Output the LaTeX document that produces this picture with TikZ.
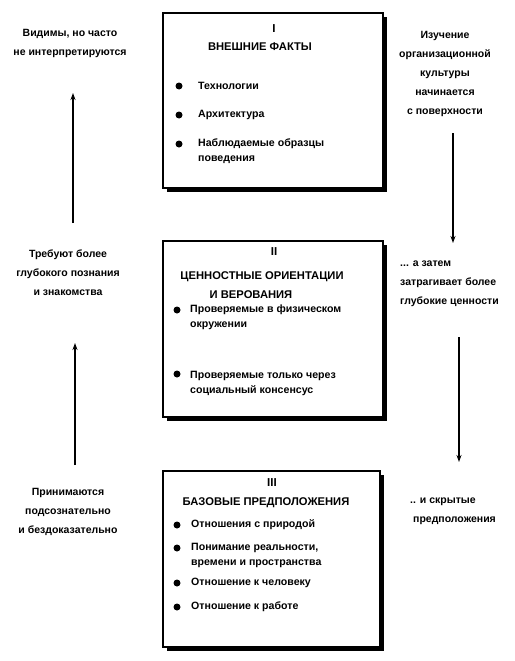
\documentclass[tikz,border=0pt]{standalone}
\usepackage{fontspec}
\setmainfont{Liberation Sans}
\usetikzlibrary{arrows.meta}
\begin{document}
\begin{tikzpicture}[x=1pt,y=-1pt,
  txt/.style={inner sep=0pt,font=\bfseries\fontsize{10.5}{19}\selectfont,align=center},
  ltxt/.style={inner sep=0pt,font=\bfseries\fontsize{10.6}{15}\selectfont,align=left,anchor=west},
  ttl/.style={inner sep=0pt,font=\bfseries\fontsize{11.2}{12}\selectfont},
  num/.style={inner sep=0pt,font=\bfseries\fontsize{11.5}{12}\selectfont},
  blt/.style={circle,fill=black,inner sep=0pt,minimum size=7pt},
  layer/.style={draw=black,line width=1.2pt,fill=white},
  shade/.style={fill=black},
  arr/.style={line width=1.4pt,-{Stealth[length=7pt,width=5pt]}}]
\useasboundingbox[fill=white] (0,0) rectangle (514,661);
% boxes with shadows
\fill[shade] (167,17) rectangle (387,192);
\draw[layer] (163,13) rectangle (383,188);
\fill[shade] (167,245) rectangle (387,421);
\draw[layer] (163,241) rectangle (383,417);
\fill[shade] (167,475) rectangle (384,651);
\draw[layer] (163,471) rectangle (380,647);
% box I
\node[num] (n1) at (274,29) {I};
\node[ttl] (t1) at (260,47) {ВНЕШНИЕ ФАКТЫ};
\node[blt] (b11) at (179,86) {};
\node[blt] (b12) at (179,115) {};
\node[blt] (b13) at (179,144) {};
\node[ltxt] (i11) at (198,86) {Технологии};
\node[ltxt] (i12) at (198,115) {Архитектура};
\node[ltxt] (i13) at (198,151) {Наблюдаемые образцы\\поведения};
% box II
\node[num] (n2) at (274,252) {II};
\node[ttl] (t2a) at (262,277) {ЦЕННОСТНЫЕ ОРИЕНТАЦИИ};
\node[ttl] (t2b) at (251,295) {И ВЕРОВАНИЯ};
\node[blt] (b21) at (177,310) {};
\node[blt] (b22) at (177,374) {};
\node[ltxt] (i21) at (190,317.5) {Проверяемые в физическом\\окружении};
\node[ltxt] (i22) at (190,383.5) {Проверяемые только через\\социальный консенсус};
% box III
\node[num] (n3) at (272,483) {III};
\node[ttl] (t3) at (266,503) {БАЗОВЫЕ ПРЕДПОЛОЖЕНИЯ};
\node[blt] (b31) at (177,525) {};
\node[blt] (b32) at (177,548) {};
\node[blt] (b33) at (177,583) {};
\node[blt] (b34) at (177,607) {};
\node[ltxt] (i31) at (191,525) {Отношения с природой};
\node[ltxt] (i32) at (191,555.5) {Понимание реальности,\\времени и пространства};
\node[ltxt] (i33) at (191,583) {Отношение к человеку};
\node[ltxt] (i34) at (191,607) {Отношение к работе};
% side labels
\node[txt] (l1) at (70,43) {Видимы, но часто\\не интерпретируются};
\node[txt] (l2) at (68,273) {Требуют более\\глубокого познания\\и знакомства};
\node[txt] (l3) at (68,512) {Принимаются\\подсознательно\\и бездоказательно};
\node[txt] (r1) at (445,73.5) {Изучение\\организационной\\культуры\\начинается\\с поверхности};
\node[txt,align=left,anchor=west] (r2) at (400,284) {... а затем\\затрагивает более\\глубокие ценности};
\node[txt,align=left,anchor=west] (r3) at (410,511) {.. и скрытые\\\hspace*{3pt}предположения};
% arrows
\coordinate (a1s) at (73,223); \coordinate (a1e) at (73,93);
\coordinate (a2s) at (75,465); \coordinate (a2e) at (75,343);
\coordinate (a3s) at (453,133); \coordinate (a3e) at (453,243);
\coordinate (a4s) at (459,337); \coordinate (a4e) at (459,462);
\draw[arr] (a1s) -- (a1e);
\draw[arr] (a2s) -- (a2e);
\draw[arr] (a3s) -- (a3e);
\draw[arr] (a4s) -- (a4e);
\end{tikzpicture}
\end{document}
